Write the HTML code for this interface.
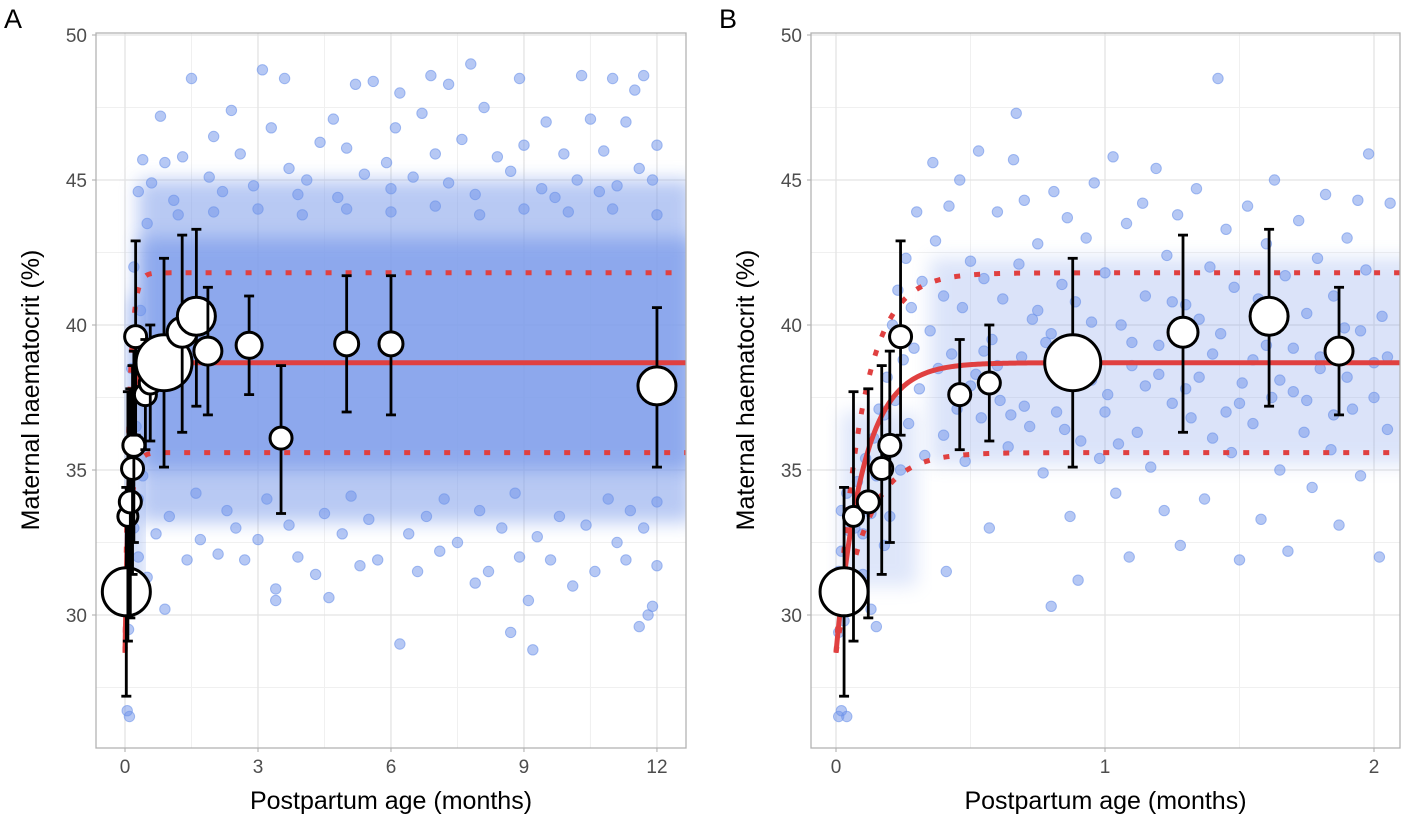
<!DOCTYPE html>
<html><head><meta charset="utf-8"><style>
body{margin:0;background:#fff;}
svg{font-family:"Liberation Sans",sans-serif;}
</style></head><body>
<svg id="c" width="1405" height="820"></svg>
<script>
// ---- data ----
const fitAsym=[38.7], fitStart=[28.7], fitTau=[0.1], bandHalf=[3.1];
const binX=[0.03,0.065,0.12,0.17,0.2,0.24,0.46,0.57,0.88,1.29,1.61,1.87,2.8,3.52,5.0,6.0,12.0];
const binY=[30.8,33.4,33.9,35.05,35.85,39.6,37.6,38.0,38.7,39.75,40.3,39.1,39.3,36.1,39.35,39.35,37.9];
const binN=[24,10,11,11,11,11,11,11,28,15,19,14,13,11,12,12,19];
const binLo=[27.2,29.1,29.9,31.4,32.5,36.2,35.7,36.0,35.1,36.3,37.2,36.9,37.6,33.5,37.0,36.9,35.1];
const binHi=[34.4,37.7,37.8,38.6,39.1,42.9,39.5,40.0,42.3,43.1,43.3,41.3,41.0,38.6,41.7,41.7,40.6];
const ptsA=[[0.8,47.2],[1.5,48.5],[2.4,47.4],[3.1,48.8],[3.6,48.5],[5.2,48.3],[5.6,48.4],[6.2,48.0],[6.9,48.6],[7.3,48.3],[7.8,49.0],[8.9,48.5],[10.3,48.6],[11.0,48.5],[11.7,48.6],[11.5,48.1],[2.0,46.5],[4.4,46.3],[4.7,47.1],[6.1,46.8],[6.7,47.3],[8.1,47.5],[9.5,47.0],[10.5,47.1],[11.3,47.0],[12.0,46.2],[0.4,45.7],[0.9,45.6],[1.3,45.8],[2.6,45.9],[3.3,46.8],[3.7,45.4],[5.0,46.1],[5.9,45.6],[7.0,45.9],[7.6,46.4],[8.4,45.8],[9.0,46.2],[9.9,45.9],[10.8,46.0],[11.6,45.4],[0.6,44.9],[1.9,45.1],[2.9,44.8],[4.1,45.0],[5.4,45.2],[6.5,45.1],[7.3,44.9],[8.7,45.3],[9.4,44.7],[10.2,45.0],[11.1,44.8],[11.9,45.0],[0.3,44.6],[1.1,44.3],[2.2,44.6],[3.9,44.5],[4.8,44.4],[6.0,44.7],[7.9,44.5],[9.7,44.4],[10.7,44.6],[0.1,26.5],[0.05,26.7],[0.08,29.5],[3.4,30.9],[3.4,30.5],[4.6,30.6],[6.2,29.0],[7.9,31.1],[8.7,29.4],[9.1,30.5],[9.2,28.8],[11.6,29.6],[11.8,30.0],[11.9,30.3],[0.9,30.2],[1.4,31.9],[0.5,31.3],[2.1,32.1],[2.7,31.9],[3.9,32.0],[4.3,31.4],[5.3,31.7],[5.7,31.9],[6.6,31.5],[7.1,32.2],[8.2,31.5],[8.9,32.0],[9.6,31.9],[10.1,31.0],[10.6,31.5],[11.3,31.9],[12.0,31.7],[0.7,32.8],[1.7,32.6],[2.5,33.0],[3.0,32.6],[3.7,33.1],[4.9,32.8],[5.5,33.3],[6.4,32.8],[7.5,32.5],[8.5,33.0],[9.3,32.7],[10.4,33.1],[11.1,32.5],[11.7,33.0],[1.0,33.4],[2.3,33.6],[4.5,33.5],[6.8,33.4],[8.0,33.6],[9.8,33.4],[11.4,33.6],[0.3,34.0],[1.6,34.2],[3.2,34.0],[5.1,34.1],[7.2,34.0],[8.8,34.2],[10.9,34.0],[12.0,33.9],[0.2,42.0],[0.35,40.5],[0.15,38.5],[0.25,36.5],[0.2,33.0],[0.3,32.0],[0.15,31.0],[0.4,34.8],[0.5,43.5],[1.2,43.8],[2.0,43.9],[3.0,44.0],[4.0,43.8],[5.0,44.0],[6.0,43.9],[7.0,44.1],[8.0,43.8],[9.0,44.0],[10.0,43.9],[11.0,44.0],[12.0,43.8]];
const ptsB=[[0.01,26.5],[0.02,26.7],[0.04,26.5],[0.01,29.4],[0.03,29.8],[0.06,30.3],[0.01,31.5],[0.02,32.2],[0.05,32.9],[0.02,33.6],[0.04,34.2],[0.07,33.0],[0.08,34.6],[0.1,31.4],[0.1,32.8],[0.11,35.4],[0.13,30.2],[0.13,33.5],[0.14,36.1],[0.15,29.6],[0.15,34.8],[0.16,37.1],[0.18,32.4],[0.18,36.9],[0.19,38.2],[0.2,33.4],[0.21,40.0],[0.22,37.4],[0.23,41.2],[0.24,35.0],[0.25,38.8],[0.26,42.3],[0.27,36.6],[0.28,40.6],[0.29,39.2],[0.3,43.9],[0.31,37.8],[0.32,41.5],[0.33,35.5],[0.35,39.8],[0.36,45.6],[0.37,42.9],[0.38,38.5],[0.4,36.2],[0.4,41.0],[0.41,31.5],[0.42,44.1],[0.43,39.0],[0.45,37.1],[0.46,45.0],[0.47,40.6],[0.48,35.3],[0.5,42.2],[0.52,38.3],[0.53,46.0],[0.54,36.8],[0.55,41.6],[0.57,33.0],[0.58,39.5],[0.6,43.9],[0.61,37.4],[0.62,40.9],[0.64,35.8],[0.66,45.7],[0.67,47.3],[0.68,42.1],[0.69,38.9],[0.7,44.3],[0.72,36.5],[0.73,40.2],[0.75,42.8],[0.77,34.9],[0.78,39.4],[0.8,30.3],[0.81,44.6],[0.82,37.0],[0.84,41.4],[0.86,43.7],[0.87,33.4],[0.89,40.8],[0.9,31.2],[0.91,36.0],[0.93,43.0],[0.95,38.1],[0.96,44.9],[0.98,35.4],[1.0,41.8],[1.01,37.6],[1.03,45.8],[1.04,34.2],[1.06,40.0],[1.08,43.5],[1.09,32.0],[1.1,38.6],[1.12,36.3],[1.14,44.2],[1.15,41.0],[1.17,35.1],[1.19,45.4],[1.2,39.3],[1.22,33.6],[1.23,42.4],[1.25,37.3],[1.27,43.8],[1.28,32.4],[1.3,40.7],[1.32,36.8],[1.34,44.7],[1.35,38.2],[1.37,34.0],[1.39,42.0],[1.4,36.1],[1.42,48.5],[1.43,39.7],[1.45,43.3],[1.47,35.6],[1.48,41.3],[1.5,31.9],[1.51,38.0],[1.53,44.1],[1.55,36.6],[1.57,40.9],[1.58,33.3],[1.6,42.8],[1.62,37.5],[1.63,45.0],[1.65,35.0],[1.67,41.7],[1.68,32.2],[1.7,39.2],[1.72,43.6],[1.74,36.3],[1.75,40.4],[1.77,34.4],[1.79,42.3],[1.8,38.5],[1.82,44.5],[1.84,35.7],[1.85,41.0],[1.87,33.1],[1.89,39.9],[1.9,43.0],[1.92,37.1],[1.94,44.3],[1.95,34.8],[1.97,41.9],[1.98,45.9],[2.0,38.7],[2.02,32.0],[2.03,40.3],[2.05,36.4],[2.06,44.2],[0.5,37.9],[0.6,38.6],[0.7,37.2],[0.8,39.7],[0.9,38.4],[1.0,37.0],[1.1,39.4],[1.2,38.3],[1.3,37.8],[1.4,39.0],[1.5,37.3],[1.6,39.3],[1.7,37.7],[1.8,38.9],[1.9,38.2],[2.0,37.5],[0.55,39.1],[0.75,40.5],[0.95,40.1],[1.15,37.9],[1.35,40.2],[1.55,38.8],[1.75,37.4],[1.95,39.8],[0.65,36.9],[0.85,36.4],[1.05,35.9],[1.25,40.8],[1.45,37.0],[1.65,38.1],[1.85,36.9],[2.05,38.9]];
// ---- render ----
const NS="http://www.w3.org/2000/svg", svg=document.getElementById('c');
function mk(t,a,p){const e=document.createElementNS(NS,t);for(const k in a)e.setAttribute(k,a[k]);(p||svg).appendChild(e);return e;}
const yS=v=>35+(50-v)*29;
const fit=t=>fitAsym[0]-(fitAsym[0]-fitStart[0])*Math.exp(-t/fitTau[0]);
const band=t=>bandHalf[0]*(1-Math.exp(-t/0.08));
const defs0=mk('defs',{});const flt=mk('filter',{id:'blur',x:'-20%',y:'-20%',width:'140%',height:'140%'},defs0);mk('feGaussianBlur',{stdDeviation:9},flt);
function panel(o){
  const g=mk('g',{});
  
  
  const xS=v=>o.x0+v*o.k;
  const cid='clip'+o.name;
  const d=mk('defs',{},g);const cp=mk('clipPath',{id:cid},d);mk('rect',{x:o.L,y:33,width:o.R-o.L,height:715},cp);
  const minorsY=[27.5,32.5,37.5,42.5,47.5];
  minorsY.forEach(v=>mk('line',{x1:o.L,x2:o.R,y1:yS(v),y2:yS(v),stroke:'#f0f0f0','stroke-width':1},g));
  o.minorX.forEach(v=>mk('line',{x1:xS(v),x2:xS(v),y1:33,y2:748,stroke:'#f0f0f0','stroke-width':1},g));
  [30,35,40,45,50].forEach(v=>{mk('line',{x1:o.L,x2:o.R,y1:yS(v),y2:yS(v),stroke:'#e3e3e3','stroke-width':1.3},g);
    const t=mk('text',{x:o.L-9,y:yS(v)+7,'text-anchor':'end','font-size':19,fill:'#4d4d4d'},g);t.textContent=v;
    mk('line',{x1:o.L-4,x2:o.L,y1:yS(v),y2:yS(v),stroke:'#aaa'},g);});
  o.ticks.forEach(v=>{mk('line',{x1:xS(v),x2:xS(v),y1:33,y2:748,stroke:'#e3e3e3','stroke-width':1.3},g);
    mk('line',{x1:xS(v),x2:xS(v),y1:748,y2:752,stroke:'#aaa'},g);
    const t=mk('text',{x:xS(v),y:773,'text-anchor':'middle','font-size':19,fill:'#4d4d4d'},g);t.textContent=v;});
  const pg=mk('g',{'clip-path':'url(#'+cid+')'},g);
  o.shades.forEach(s=>{const sh=mk('rect',{x:xS(s[0]),y:yS(s[3]),width:xS(s[1])-xS(s[0]),height:yS(s[2])-yS(s[3]),fill:'#7f9eeb',opacity:s[4],filter:'url(#blur)'},pg);
    
    });
  o.pts.forEach(p=>{const c=mk('circle',{cx:xS(p[0]),cy:yS(p[1]),r:5.2,fill:'#6d92e9','fill-opacity':0.5,stroke:'#6d92e9','stroke-opacity':0.6,'stroke-width':1},pg);
    
    });
  let a='',u='',l='';
  for(let i=0;i<=400;i++){const t=o.max*i/400;a+=(i?'L':'M')+xS(t)+' '+yS(fit(t));u+=(i?'L':'M')+xS(t)+' '+yS(fit(t)+band(t));l+=(i?'L':'M')+xS(t)+' '+yS(fit(t)-band(t));}
  const f=mk('path',{d:a,fill:'none',stroke:'#e04040','stroke-width':5},pg);
  [u,l].forEach((p,i)=>{const e=mk('path',{d:p,fill:'none',stroke:'#e04040','stroke-width':5,'stroke-dasharray':'6 14'},pg);
    });
  binX.forEach((x,i)=>{const cx=xS(x);
    const b=mk('g',{},pg);
    mk('line',{x1:cx,x2:cx,y1:yS(binLo[i]),y2:yS(binHi[i]),stroke:'#000','stroke-width':2.8},b);
    [binLo[i],binHi[i]].forEach(v=>mk('line',{x1:cx-5,x2:cx+5,y1:yS(v),y2:yS(v),stroke:'#000','stroke-width':2.8},b));
    mk('circle',{cx:cx,cy:yS(binY[i]),r:binN[i],fill:'#fff',stroke:'#000','stroke-width':3},b);});
  mk('rect',{x:o.L,y:33,width:o.R-o.L,height:715,fill:'none',stroke:'#b3b3b3','stroke-width':1.3},g);
  const xt=mk('text',{x:(o.L+o.R)/2,y:809,'text-anchor':'middle','font-size':25,fill:'#000'},g);xt.textContent='Postpartum age (months)';
  
  const yt=mk('text',{x:0,y:0,transform:`translate(${o.L-57},390) rotate(-90)`,'text-anchor':'middle','font-size':25,fill:'#000'},g);yt.textContent='Maternal haematocrit (%)';
  
  const pl=mk('text',{x:o.L-92,y:28,'font-size':27,fill:'#000'},g);pl.textContent=o.label;
  
}
panel({name:'panel-a',label:'A',L:96,R:686,x0:125,k:44.33,max:12.7,ticks:[0,3,6,9,12],minorX:[1.5,4.5,7.5,10.5],pts:ptsA,
  shades:[[0.3,12.8,33.2,45.0,0.55],[0.35,12.8,35.0,43.0,0.75],[0.05,0.4,30.5,41,0.5]]});
panel({name:'panel-b',label:'B',L:811,R:1400,x0:836,k:269,max:2.3,ticks:[0,1,2],minorX:[0.5,1.5],pts:ptsB,
  shades:[[0.35,2.3,35.2,42.3,0.28],[0.02,0.3,31,37,0.25]]});
</script>
</body></html>
